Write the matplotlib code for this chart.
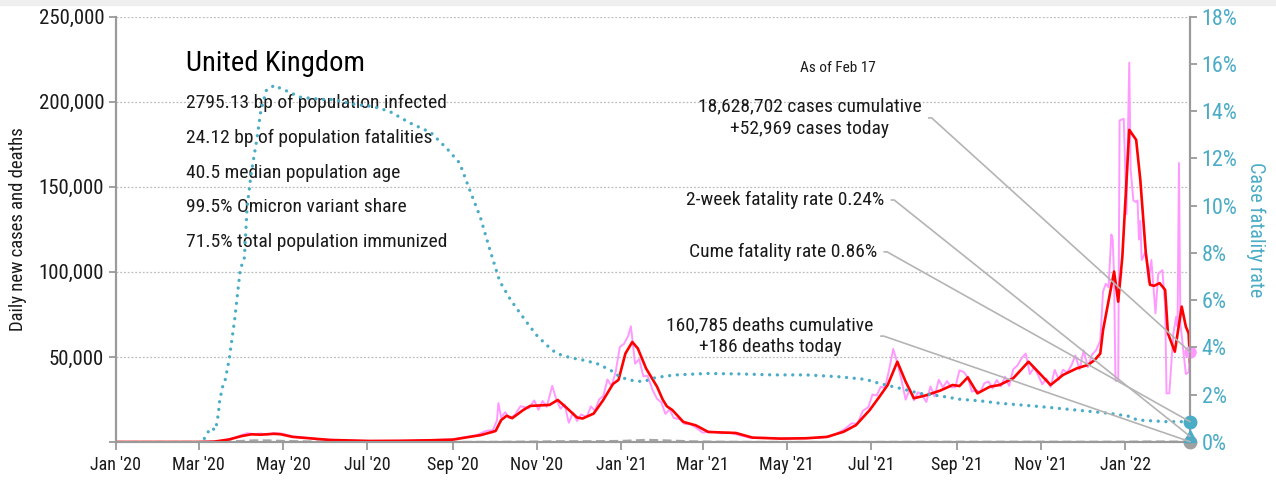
import pandas as pd
import matplotlib
matplotlib.use("Agg")
import matplotlib.pyplot as plt
import matplotlib.dates as mdates
from matplotlib.ticker import FuncFormatter, MultipleLocator
from matplotlib.patches import Rectangle

plt.rcParams['font.family'] = ['Roboto Condensed', 'DejaVu Sans']

# -----------------------------
# 1. Data
# -----------------------------
COUNTRY = "United Kingdom"
AS_OF = "As of Feb 17"
stats_lines = [
    "2795.13 bp of population infected",
    "24.12 bp of population fatalities",
    "40.5 median population age",
    "99.5% Omicron variant share",
    "71.5% total population immunized",
]

# daily new cases (reported)
daily_dates = [
    "2020-01-01", "2020-03-01", "2020-03-15", "2020-03-25", "2020-04-01", "2020-04-05",
    "2020-04-10", "2020-04-15", "2020-04-20", "2020-04-24", "2020-05-01", "2020-05-08",
    "2020-05-15", "2020-05-25", "2020-06-05", "2020-07-01", "2020-08-01", "2020-09-01",
    "2020-09-10", "2020-09-18", "2020-09-25", "2020-09-30", "2020-10-03", "2020-10-04",
    "2020-10-06", "2020-10-09", "2020-10-12", "2020-10-16", "2020-10-20", "2020-10-23",
    "2020-10-26", "2020-10-30", "2020-11-02", "2020-11-05", "2020-11-08", "2020-11-12",
    "2020-11-15", "2020-11-18", "2020-11-21", "2020-11-24", "2020-11-27", "2020-11-30",
    "2020-12-03", "2020-12-07", "2020-12-10", "2020-12-13", "2020-12-16", "2020-12-19",
    "2020-12-22", "2020-12-25", "2020-12-28", "2020-12-31", "2021-01-03", "2021-01-06",
    "2021-01-08", "2021-01-11", "2021-01-14", "2021-01-17", "2021-01-20", "2021-01-24",
    "2021-01-27", "2021-01-30", "2021-02-02", "2021-02-05", "2021-02-08", "2021-02-12",
    "2021-02-16", "2021-02-20", "2021-02-24", "2021-03-01", "2021-03-05", "2021-03-10",
    "2021-03-15", "2021-03-20", "2021-03-28", "2021-04-05", "2021-04-15", "2021-05-01",
    "2021-05-15", "2021-05-25", "2021-06-01", "2021-06-07", "2021-06-12", "2021-06-17",
    "2021-06-21", "2021-06-25", "2021-06-29", "2021-07-02", "2021-07-05", "2021-07-08",
    "2021-07-11", "2021-07-14", "2021-07-17", "2021-07-20", "2021-07-23", "2021-07-26",
    "2021-07-29", "2021-08-01", "2021-08-04", "2021-08-07", "2021-08-10", "2021-08-13",
    "2021-08-16", "2021-08-19", "2021-08-22", "2021-08-25", "2021-08-28", "2021-08-31",
    "2021-09-03", "2021-09-06", "2021-09-09", "2021-09-12", "2021-09-15", "2021-09-18",
    "2021-09-21", "2021-09-24", "2021-09-27", "2021-09-30", "2021-10-03", "2021-10-06",
    "2021-10-09", "2021-10-12", "2021-10-15", "2021-10-18", "2021-10-21", "2021-10-24",
    "2021-10-27", "2021-10-30", "2021-11-02", "2021-11-05", "2021-11-08", "2021-11-11",
    "2021-11-14", "2021-11-17", "2021-11-20", "2021-11-23", "2021-11-26", "2021-11-29",
    "2021-12-02", "2021-12-05", "2021-12-08", "2021-12-11", "2021-12-14", "2021-12-16",
    "2021-12-18", "2021-12-20", "2021-12-22", "2021-12-23", "2021-12-24", "2021-12-25",
    "2021-12-27", "2021-12-28", "2021-12-31", "2022-01-02", "2022-01-04", "2022-01-05",
    "2022-01-07", "2022-01-09", "2022-01-10", "2022-01-11", "2022-01-12", "2022-01-13",
    "2022-01-16", "2022-01-18", "2022-01-20", "2022-01-23", "2022-01-25", "2022-01-28",
    "2022-01-30", "2022-01-31", "2022-02-02", "2022-02-05", "2022-02-07", "2022-02-08",
    "2022-02-09", "2022-02-10", "2022-02-12", "2022-02-14", "2022-02-16", "2022-02-17",
]
daily_cases = [
    0, 0, 300, 2000, 4000, 5200,
    4600, 5000, 4300, 5300, 4800, 3300,
    2800, 1800, 1300, 600, 800, 1500,
    2900, 4000, 6500, 7000, 12800, 22900,
    14500, 17500, 13900, 16000, 21000, 20500,
    19800, 24400, 18900, 24100, 20600, 33000,
    24900, 19600, 22000, 11300, 17200, 12300,
    16200, 14700, 20900, 18400, 25100, 27000,
    36800, 32700, 41400, 55900, 57700, 62300,
    68000, 46000, 48700, 38600, 38900, 30000,
    25300, 23300, 16500, 19100, 14100, 13500,
    10600, 10400, 8500, 5500, 6000, 5900,
    5100, 5600, 3900, 2300, 2500, 1900,
    2200, 2500, 3200, 5300, 7700, 11000,
    10600, 18300, 20500, 27900, 27300, 32500,
    31800, 42300, 54700, 46500, 36400, 24900,
    31100, 24500, 29300, 27400, 23500, 32700,
    26800, 36600, 32100, 35800, 32200, 32200,
    42100, 41200, 38000, 29600, 30600, 29200,
    34500, 35600, 31500, 36400, 32600, 38400,
    33000, 42800, 45000, 49200, 52000, 39900,
    43900, 39300, 33900, 37300, 32300, 42400,
    36500, 42500, 40900, 44900, 50900, 42600,
    53900, 43900, 51300, 54000, 59600, 88400,
    93000, 91000, 122000, 119000, 98000, 36000,
    36000, 189000, 190000, 134000, 223000, 160000,
    142000, 141000, 142000, 119000, 130000, 107000,
    112000, 94000, 107000, 75700, 99000, 101000,
    79600, 28600, 28600, 64000, 73700, 68000,
    164000, 70000, 55000, 40000, 41000, 52969,
]

# 7-day average of new cases
avg_dates = [
    "2020-01-01", "2020-03-01", "2020-03-12", "2020-03-23", "2020-04-01", "2020-04-08",
    "2020-04-15", "2020-04-24", "2020-04-29", "2020-05-08", "2020-05-23", "2020-06-04",
    "2020-07-03", "2020-07-25", "2020-08-15", "2020-09-01", "2020-09-13", "2020-09-21",
    "2020-09-30", "2020-10-02", "2020-10-06", "2020-10-10", "2020-10-14", "2020-10-22",
    "2020-10-27", "2020-11-10", "2020-11-16", "2020-11-22", "2020-11-30", "2020-12-04",
    "2020-12-12", "2020-12-19", "2020-12-26", "2020-12-30", "2021-01-04", "2021-01-09",
    "2021-01-13", "2021-01-19", "2021-01-27", "2021-01-31", "2021-02-03", "2021-02-07",
    "2021-02-15", "2021-02-24", "2021-03-05", "2021-03-25", "2021-04-06", "2021-04-26",
    "2021-05-15", "2021-05-30", "2021-06-11", "2021-06-20", "2021-06-30", "2021-07-07",
    "2021-07-13", "2021-07-20", "2021-07-26", "2021-08-01", "2021-08-10", "2021-08-20",
    "2021-08-29", "2021-09-03", "2021-09-09", "2021-09-16", "2021-09-25", "2021-10-02",
    "2021-10-12", "2021-10-23", "2021-10-31", "2021-11-08", "2021-11-17", "2021-11-27",
    "2021-12-05", "2021-12-10", "2021-12-14", "2021-12-16", "2021-12-24", "2021-12-27",
    "2021-12-30", "2022-01-04", "2022-01-09", "2022-01-12", "2022-01-16", "2022-01-19",
    "2022-01-22", "2022-01-26", "2022-01-30", "2022-02-01", "2022-02-06", "2022-02-11",
    "2022-02-14", "2022-02-16", "2022-02-17",
]
avg_cases = [
    0, 0, 200, 1500, 3500, 4500,
    4300, 4800, 4600, 3000, 2000, 1200,
    600, 700, 1000, 1400, 3000, 4000,
    6000, 6500, 12900, 15400, 14000, 18800,
    21200, 21800, 24700, 20400, 14400, 13800,
    16700, 24700, 34100, 36500, 52000, 58800,
    55000, 43200, 32400, 25000, 21000, 18800,
    11800, 9800, 5900, 5300, 2600, 2000,
    2200, 3000, 6000, 9900, 18800, 26600,
    33500, 47200, 35500, 25700, 27500, 30200,
    33500, 32900, 38000, 28600, 32500, 33500,
    37500, 47200, 40400, 33500, 39400, 43300,
    45300, 48200, 52000, 65700, 100200, 82500,
    109000, 183500, 177600, 154100, 111000, 92400,
    91800, 93400, 89400, 63900, 53100, 79600,
    67800, 63900, 47000,
]

# daily new deaths
death_dates = [
    "2020-01-01", "2020-03-15", "2020-04-01", "2020-04-10", "2020-04-21", "2020-05-01",
    "2020-05-15", "2020-06-01", "2020-07-01", "2020-08-01", "2020-09-01", "2020-10-01",
    "2020-11-01", "2020-11-20", "2020-12-10", "2021-01-01", "2021-01-20", "2021-02-01",
    "2021-02-20", "2021-03-10", "2021-04-01", "2021-05-01", "2021-06-01", "2021-07-01",
    "2021-08-01", "2021-09-01", "2021-10-01", "2021-11-01", "2021-12-01", "2022-01-01",
    "2022-01-20", "2022-02-17",
]
daily_deaths = [
    0, 20, 600, 950, 900, 600,
    380, 200, 70, 10, 10, 60,
    250, 420, 420, 600, 1250, 950,
    400, 150, 40, 15, 10, 20,
    80, 120, 125, 150, 120, 150,
    270, 186,
]

# cumulative case fatality rate (%)
cfr_dates = [
    "2020-03-05", "2020-03-07", "2020-03-10", "2020-03-13", "2020-03-14", "2020-03-15",
    "2020-03-16", "2020-03-17", "2020-03-18", "2020-03-20", "2020-03-23", "2020-03-27",
    "2020-03-31", "2020-04-03", "2020-04-05", "2020-04-08", "2020-04-12", "2020-04-15",
    "2020-04-19", "2020-04-25", "2020-04-29", "2020-05-06", "2020-05-13", "2020-05-28",
    "2020-06-06", "2020-06-21", "2020-07-05", "2020-07-17", "2020-08-01", "2020-08-16",
    "2020-08-28", "2020-09-06", "2020-09-13", "2020-09-21", "2020-09-28", "2020-10-05",
    "2020-10-13", "2020-10-21", "2020-10-26", "2020-11-01", "2020-11-08", "2020-11-15",
    "2020-11-25", "2020-12-04", "2020-12-14", "2020-12-24", "2020-12-31", "2021-01-07",
    "2021-01-17", "2021-01-24", "2021-02-02", "2021-02-10", "2021-03-04", "2021-03-28",
    "2021-04-21", "2021-05-15", "2021-06-08", "2021-06-27", "2021-07-07", "2021-07-22",
    "2021-08-05", "2021-08-20", "2021-09-03", "2021-09-18", "2021-10-02", "2021-10-17",
    "2021-11-02", "2021-11-27", "2021-12-21", "2022-01-03", "2022-01-10", "2022-01-31",
    "2022-02-17",
]
cfr_pct = [
    0.15, 0.37, 0.6, 0.5, 0.8, 1.14,
    1.7, 2.0, 2.3, 2.6, 3.5, 5.2,
    7.3, 7.8, 9.96, 11.4, 12.8, 14.05,
    14.9, 15.1, 14.97, 14.8, 14.6, 14.5,
    14.5, 14.3, 14.2, 14.0, 13.5, 13.1,
    12.4, 11.8, 10.7, 9.5, 8.1, 6.8,
    6.0, 5.35, 4.95, 4.5, 4.1, 3.75,
    3.57, 3.47, 3.33, 3.05, 2.76, 2.62,
    2.55, 2.7, 2.79, 2.84, 2.9, 2.88,
    2.84, 2.84, 2.76, 2.65, 2.48, 2.27,
    2.06, 1.95, 1.81, 1.74, 1.64, 1.57,
    1.49, 1.35, 1.21, 1.1, 0.93, 0.86,
    0.86,
]

# latest values
last_date = "2022-02-17"
cases_cumulative = 18628702
cases_today = 52969
deaths_cumulative = 160785
deaths_today = 186
cume_fatality = 0.86
two_week_fatality = 0.24

# -----------------------------
# 2. Styling
# -----------------------------
PINK = "#ff99ff"
RED = "#ff0000"
TEAL = "#4bacc6"
GRAY = "#a6a6a6"
LEADER = "#b4b4b4"
TEXT = "#1a1a1a"
AXIS = "#9a9a9a"

daily_x = pd.to_datetime(daily_dates)
avg_x = pd.to_datetime(avg_dates)
death_x = pd.to_datetime(death_dates)
cfr_x = pd.to_datetime(cfr_dates)
end_x = pd.Timestamp(last_date)

fig = plt.figure(figsize=(12.76, 4.82), dpi=100)
ax = fig.add_axes([116 / 1276, 1 - 442 / 482, (1190 - 116) / 1276, (442 - 16.7) / 482])
ax2 = ax.twinx()
fig.patches.append(Rectangle((0, 1 - 5 / 482), 1, 5 / 482, transform=fig.transFigure,
                             color="#efefef", zorder=0))

# -----------------------------
# 3. Lines
# -----------------------------
ax.plot(death_x, daily_deaths, color=GRAY, lw=1.6, ls=(0, (4, 2)), zorder=2)
ax.plot(daily_x, daily_cases, color=PINK, lw=1.4, zorder=3)
ax.plot(avg_x, avg_cases, color=RED, lw=1.9, zorder=4)
ax2.plot(cfr_x, [v / 100 for v in cfr_pct], color=TEAL, lw=2.4,
         ls=(0, (0.01, 2.3)), dash_capstyle="round", zorder=3)

# end-of-series markers
ax.plot([end_x], [cases_today], "o", color=PINK, ms=8, clip_on=False, zorder=6)
ax.plot([end_x], [deaths_today], "o", color="#a0a0a0", ms=9, clip_on=False, zorder=6)
ax2.plot([end_x], [two_week_fatality / 100], "^", color=TEAL, ms=9, clip_on=False, zorder=6)
ax2.plot([end_x], [cume_fatality / 100], "o", color=TEAL, ms=9, clip_on=False, zorder=6)

# -----------------------------
# 4. Axes
# -----------------------------
ax.set_xlim(pd.Timestamp("2020-01-01"), end_x)
ax.set_ylim(0, 250000)
ax2.set_ylim(0, 0.18)

ax.xaxis.set_major_locator(mdates.MonthLocator(bymonth=[1, 3, 5, 7, 9, 11]))
ax.xaxis.set_major_formatter(mdates.DateFormatter("%b '%y"))
ax.yaxis.set_major_locator(MultipleLocator(50000))
ax.yaxis.set_major_formatter(FuncFormatter(lambda v, p: f"{v:,.0f}" if v > 0 else ""))
ax2.yaxis.set_major_locator(MultipleLocator(0.02))
ax2.yaxis.set_major_formatter(FuncFormatter(lambda v, p: f"{v * 100:.0f}%"))

ax.grid(axis="y", color="#bdbdbd", ls=(0, (1.5, 1.5)), lw=0.9)
ax.set_axisbelow(True)

for a in (ax, ax2):
    a.spines["top"].set_visible(False)
    for s in ("left", "right", "bottom"):
        a.spines[s].set_color(AXIS)
        a.spines[s].set_linewidth(1.5)
ax.tick_params(axis="x", colors=AXIS, labelcolor=TEXT, labelsize=13, length=6, width=1.3, pad=4)
ax.tick_params(axis="y", colors=AXIS, labelcolor=TEXT, labelsize=15, length=5, width=1.3)
ax2.tick_params(axis="y", colors=AXIS, labelcolor=TEAL, labelsize=16, length=5, width=1.3)

ax.set_ylabel("Daily new cases and deaths", fontsize=13.5, color=TEXT, va="center")
ax.yaxis.set_label_coords(-0.0912, 0.5)
ax2.set_ylabel("Case fatality rate", fontsize=14.5, color=TEAL, rotation=270, va="center")
ax2.yaxis.set_label_coords(1.0615, 0.5)

# -----------------------------
# 5. Text and leader lines
# -----------------------------
ax.text(0.0652, 0.891, COUNTRY, transform=ax.transAxes, fontsize=20.5, color="black",
        ha="left", va="center")
for i, line in enumerate(stats_lines):
    ax.text(0.0652, 0.797 - i * 0.0818, line, transform=ax.transAxes, fontsize=14,
            color=TEXT, ha="left", va="center")

ax2.text(0.672, 0.879, AS_OF, transform=ax2.transAxes, fontsize=11, color=TEXT,
         ha="center", va="center")

leader = dict(arrowstyle="-", color=LEADER, lw=1.2, relpos=(1, 0.5), shrinkA=3, shrinkB=0,
              connectionstyle="arc,angleA=0,armA=10,armB=0,rad=0")
notes = [
    (f"{cases_cumulative:,} cases cumulative\n+{cases_today:,} cases today",
     (0.646, 0.762), ax.transData, cases_today),
    (f"2-week fatality rate {two_week_fatality:.2f}%",
     (0.623, 0.569), ax2.transData, two_week_fatality / 100),
    (f"Cume fatality rate {cume_fatality:.2f}%",
     (0.621, 0.447), ax2.transData, cume_fatality / 100),
    (f"{deaths_cumulative:,} deaths cumulative\n+{deaths_today} deaths today",
     (0.609, 0.249), ax.transData, deaths_today),
]
for label, pos, coords, yval in notes:
    ax2.annotate(label, xy=(mdates.date2num(end_x), yval), xycoords=coords,
                 xytext=pos, textcoords="axes fraction", ha="center", va="center",
                 multialignment="center", fontsize=14, color=TEXT, linespacing=1.3,
                 arrowprops=leader, zorder=7)

fig.savefig("out.png", dpi=100)
